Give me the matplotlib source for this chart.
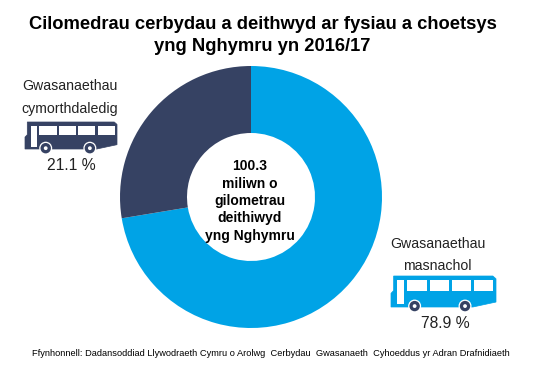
import matplotlib
matplotlib.use('Agg')
import matplotlib.pyplot as plt
import matplotlib.patches as patches

plt.rcParams['font.family'] = ['Liberation Sans', 'DejaVu Sans']

# shares as drawn in the reference (the printed labels are separate text)
categories = ['Gwasanaethau\nmasnachol', 'Gwasanaethau\ncymorthdaledig']
drawn_shares = [72.4, 27.6]
printed_labels = ['78.9 %', '21.1 %']
centre_text = '100.3\nmiliwn o\ngilometrau\ndeithiwyd\nyng Nghymru'
title = 'Cilomedrau cerbydau a deithwyd ar fysiau a choetsys\nyng Nghymru yn 2016/17'
source = 'Ffynhonnell: Dadansoddiad Llywodraeth Cymru o Arolwg  Cerbydau  Gwasanaeth  Cyhoeddus yr Adran Drafnidiaeth'

BLUE = '#00A3E6'
NAVY = '#364263'
W, H = 534, 369

fig = plt.figure(figsize=(W / 100, H / 100), dpi=100)

# canvas in pixel coordinates for text and icons
ax = fig.add_axes([0, 0, 1, 1])
ax.set_xlim(0, W)
ax.set_ylim(H, 0)
ax.axis('off')

# doughnut
cx, cy, r = 251, 197, 131
ax_pie = fig.add_axes([(cx - r) / W, 1 - (cy + r) / H, 2 * r / W, 2 * r / H])
ax_pie.pie(drawn_shares, colors=[BLUE, NAVY], startangle=90, counterclock=False,
           radius=1, wedgeprops=dict(width=67 / 131))
ax_pie.set_xlim(-1, 1)
ax_pie.set_ylim(-1, 1)


def bus(x0, y0, w, h, colour):
    # outline in 0-1 box, y downwards
    pts = [(0.025, 0), (0.97, 0), (1, 0.09), (1, 0.84), (0.78, 1), (0, 1), (0, 0.56), (0.025, 0.47)]
    ax.add_patch(patches.Polygon([(x0 + a * w, y0 + b * h) for a, b in pts],
                                 closed=True, fc=colour, ec=colour, lw=0.5))
    # door
    ax.add_patch(patches.Rectangle((x0 + 0.06 * w, y0 + 0.14 * h), 0.065 * w, 0.77 * h, fc='white', ec='none'))
    # windows
    for a, b in [(0.155, 0.345), (0.37, 0.55), (0.58, 0.76), (0.79, 0.975)]:
        ax.add_patch(patches.Rectangle((x0 + a * w, y0 + 0.14 * h), (b - a) * w, 0.35 * h, fc='white', ec='none'))
    # wheels
    for a in (0.225, 0.705):
        ax.add_patch(patches.Circle((x0 + a * w, y0 + 0.97 * h), 6.5, fc='white', ec='none', zorder=3))
        ax.add_patch(patches.Circle((x0 + a * w, y0 + 0.97 * h), 5.2, fc=NAVY, ec='none', zorder=4))
        ax.add_patch(patches.Circle((x0 + a * w, y0 + 0.97 * h), 1.9, fc='white', ec='none', zorder=5))


bus(25, 122, 92, 27, NAVY)
bus(391, 276, 105, 31, BLUE)

ax_top = fig.add_axes([0, 0, 1, 1], facecolor='none')
ax_top.set_xlim(0, W)
ax_top.set_ylim(H, 0)
ax_top.axis('off')

ax_top.text(262.5, 35.5, title, ha='center', va='center', fontsize=13.25, fontweight='bold',
            color='black', linespacing=1.36)
ax_top.text(250, 201, centre_text, ha='center', va='center', fontsize=10, fontweight='bold',
            color='black', linespacing=1.31)
ax_top.text(70, 97.5, categories[1], ha='center', va='center', fontsize=10.2, color='#222222', linespacing=1.8)
ax_top.text(437.5, 255, categories[0], ha='center', va='center', fontsize=10.2, color='#222222', linespacing=1.8)
ax_top.text(71, 166, printed_labels[1], ha='center', va='center', fontsize=11.3, color='#222222')
ax_top.text(445, 323, printed_labels[0], ha='center', va='center', fontsize=11.3, color='#222222')
ax_top.text(271, 354, source, ha='center', va='center', fontsize=6.7, color='black')

fig.savefig('out.png', dpi=100, facecolor='white')
